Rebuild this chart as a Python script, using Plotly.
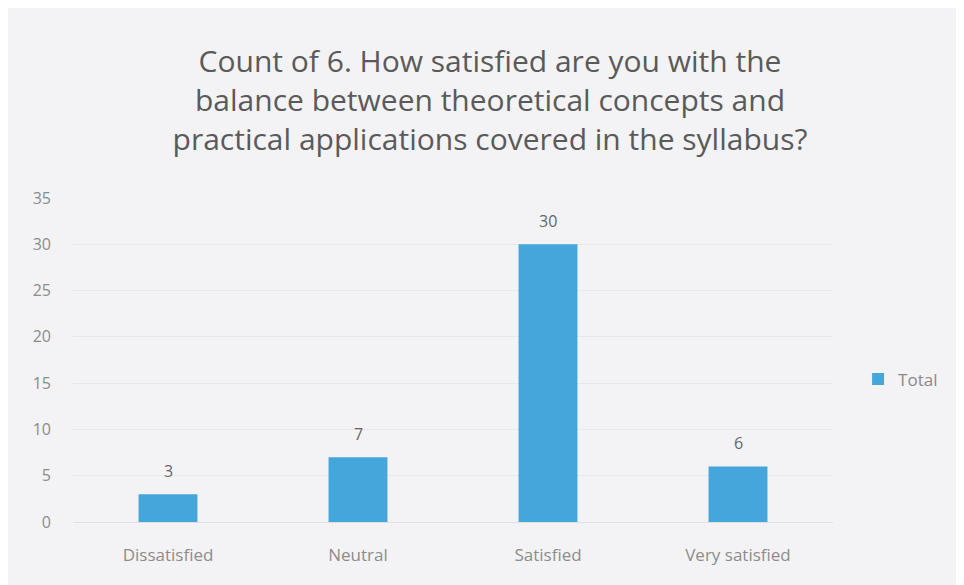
import plotly.graph_objects as go

categories = ["Dissatisfied", "Neutral", "Satisfied", "Very satisfied"]
totals = [3, 7, 30, 6]
y_ticks = [0, 5, 10, 15, 20, 25, 30, 35]

title_text = ("Count of 6. How satisfied are you with the<br>"
              "balance between theoretical concepts and<br>"
              "practical applications covered in the syllabus?")

fig = go.Figure()
fig.add_trace(go.Bar(
    x=categories, y=totals, name="Total",
    marker=dict(color="#45a6dc", line=dict(width=0)),
    width=0.31,
))

# data labels placed above each bar via data coordinates
for cat, val in zip(categories, totals):
    fig.add_annotation(x=cat, y=val, text=str(val), showarrow=False,
                       xref="x", yref="y", yanchor="middle", yshift=23,
                       font=dict(family="Open Sans", size=16, color="#666666"))

fig.update_layout(
    width=964, height=585,
    paper_bgcolor="#f3f3f5", plot_bgcolor="#f3f3f5",
    margin=dict(l=65, r=139, t=190, b=71),
    title=dict(text=title_text, x=0.5, xanchor="center", y=0.89, yanchor="top",
               font=dict(family="Open Sans", size=30, color="#5a5a5a")),
    showlegend=True,
    legend=dict(x=1.033, y=0.44, xanchor="left", yanchor="middle", itemwidth=30,
                font=dict(family="Open Sans", size=17, color="#8a8a8a"),
                bgcolor="rgba(0,0,0,0)"),
)
fig.update_yaxes(range=[0, 35], tickvals=y_ticks, showgrid=True, gridcolor="#e8e8ec",
                 zeroline=False, showline=False, ticks="",
                 tickfont=dict(family="Open Sans", size=16, color="#8c8c8c"),
                 ticklabelstandoff=21)
fig.update_xaxes(showline=True, linecolor="#e0e0e4", ticks="",
                 tickfont=dict(family="Open Sans", size=17, color="#8c8c8c"),
                 ticklabelstandoff=18)

fig.write_html("out.html")
